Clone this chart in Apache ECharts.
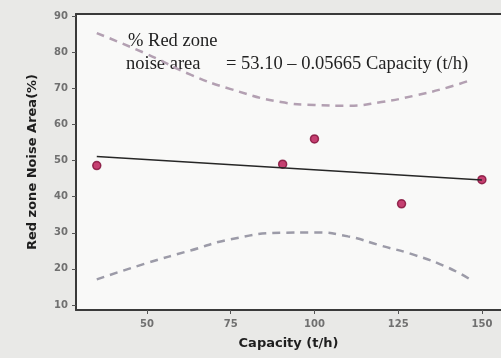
<!DOCTYPE html>
<html>
<head>
<meta charset="utf-8">
<script src="https://cdn.jsdelivr.net/npm/echarts@6/dist/echarts.min.js"></script>
<style>
  html, body { margin: 0; padding: 0; background: #e9e9e7; }
  #chart { width: 501px; height: 358px; }
</style>
</head>
<body>
<div id="chart"></div>
<script>
// data
var pointCap = [35, 90.5, 100, 126, 150];
var pointArea = [48.6, 49, 56, 38, 44.7];
var fitCap = [35, 150];
var fitArea = [51.1, 44.6];
var bandCap = [35, 50, 63, 75, 90, 100, 110, 120, 130, 140, 147];
var upperBand = [85.3, 79.5, 73.8, 69.8, 66.2, 65.4, 65.2, 66.2, 68, 70.3, 72.4];
var lowerBand = [17.1, 21.6, 25.1, 28.2, 30.0, 30.1, 29.0, 26.4, 23.8, 20.3, 16.8];
var xTicks = [50, 75, 100, 125, 150];
var yTicks = [10, 20, 30, 40, 50, 60, 70, 80, 90];

function pairs(xs, ys) {
  return xs.map(function (x, i) { return [x, ys[i]]; });
}

var chart = echarts.init(document.getElementById('chart'));

var tickLabel = {
  color: '#707070',
  fontFamily: 'DejaVu Sans',
  fontWeight: 'bold',
  fontSize: 10
};
var titleFont = { color: '#1e1e1e', fontFamily: 'DejaVu Sans', fontWeight: 'bold', fontSize: 13 };
var noteFont = '18.5px "Liberation Serif"';

var option = {
  backgroundColor: '#e9e9e7',
  animation: false,
  grid: {
    left: 76, right: 0, top: 14, bottom: 48,
    show: true,
    backgroundColor: '#f9f9f8',
    borderWidth: 0
  },
  xAxis: [{
    type: 'value',
    min: 28.8,
    max: 155.7,
    splitLine: { show: false },
    axisLine: { lineStyle: { color: '#3a3a3a', width: 2 } },
    axisTick: { customValues: xTicks, length: 4, lineStyle: { color: '#555' } },
    axisLabel: Object.assign({ customValues: xTicks, margin: 9 }, tickLabel),
    name: 'Capacity (t/h)',
    nameLocation: 'middle',
    nameGap: 27,
    nameTextStyle: titleFont
  }, {
    type: 'value',
    position: 'top',
    min: 28.8,
    max: 155.7,
    splitLine: { show: false },
    axisLine: { lineStyle: { color: '#3a3a3a', width: 2 } },
    axisTick: { show: false },
    axisLabel: { show: false }
  }],
  yAxis: {
    type: 'value',
    min: 8.6,
    max: 90.6,
    splitLine: { show: false },
    axisLine: { lineStyle: { color: '#3a3a3a', width: 2 } },
    axisTick: { customValues: yTicks, length: 4, lineStyle: { color: '#555' } },
    axisLabel: Object.assign({ customValues: yTicks, margin: 8 }, tickLabel),
    name: 'Red zone Noise Area(%)',
    nameLocation: 'middle',
    nameGap: 37,
    nameTextStyle: titleFont
  },
  graphic: [{
    type: 'text',
    left: 128, top: 32,
    style: { text: '% Red zone', fill: '#222', font: noteFont }
  }, {
    type: 'text',
    left: 126, top: 55,
    style: { text: 'noise area', fill: '#222', font: noteFont }
  }, {
    type: 'text',
    left: 226, top: 55,
    style: { text: '= 53.10 \u2013 0.05665 Capacity (t/h)', fill: '#222', font: noteFont }
  }],
  series: [{
    type: 'line',
    data: pairs(bandCap, upperBand),
    smooth: true,
    symbol: 'none',
    lineStyle: { color: '#b3a0b2', width: 2.5, type: [8, 6] }
  }, {
    type: 'line',
    data: pairs(bandCap, lowerBand),
    smooth: true,
    symbol: 'none',
    lineStyle: { color: '#9c9ba8', width: 2.5, type: [8, 6] }
  }, {
    type: 'line',
    data: pairs(fitCap, fitArea),
    symbol: 'none',
    lineStyle: { color: '#262626', width: 1.5 }
  }, {
    type: 'scatter',
    data: pairs(pointCap, pointArea),
    symbolSize: 8,
    itemStyle: { color: '#b8124f', borderColor: '#7e0c36', borderWidth: 1.5 }
  }]
};

chart.setOption(option);
</script>
</body>
</html>
